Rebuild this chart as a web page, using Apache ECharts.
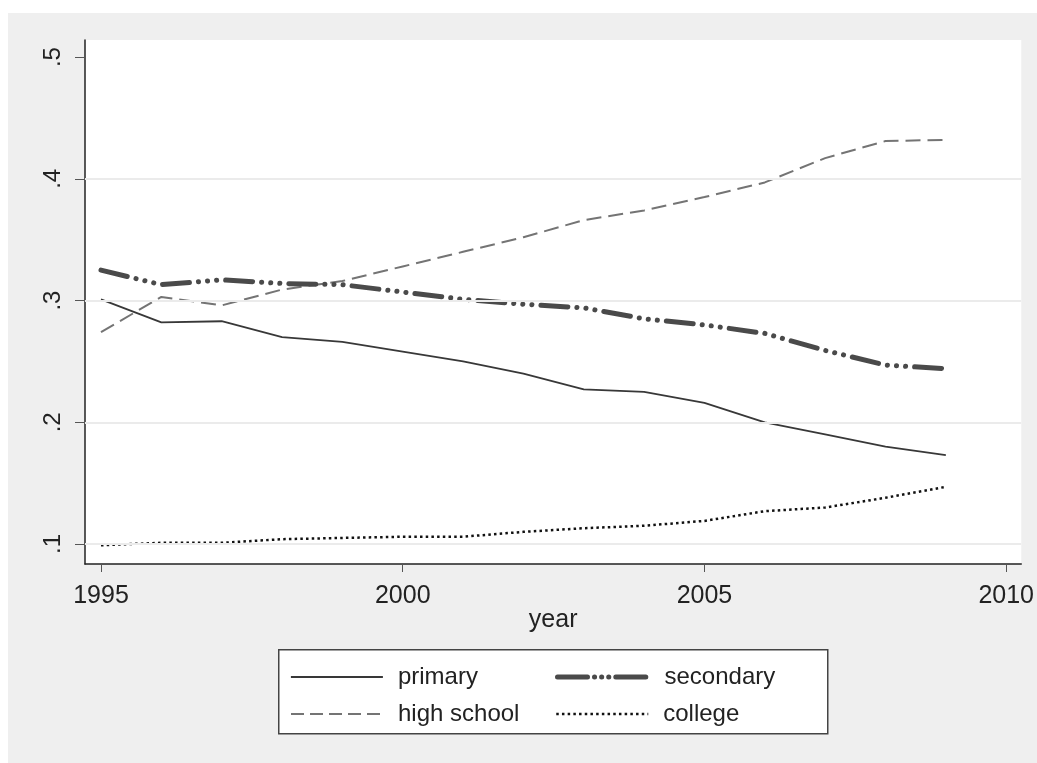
<!DOCTYPE html>
<html>
<head>
<meta charset="utf-8">
<script src="https://cdn.jsdelivr.net/npm/echarts@6/dist/echarts.min.js"></script>
<style>
html,body{margin:0;padding:0;background:#fff;}
#panel{position:absolute;left:8px;top:13px;width:1029px;height:750px;background:#efefef;}
#chart{width:1029px;height:750px;}
</style>
</head>
<body>
<div id="panel"><div id="chart"></div></div>
<script>
const years = [1995,1996,1997,1998,1999,2000,2001,2002,2003,2004,2005,2006,2007,2008,2009];
const primary   = [0.301,0.282,0.283,0.270,0.266,0.258,0.250,0.240,0.227,0.225,0.216,0.200,0.190,0.180,0.173];
const secondary = [0.325,0.313,0.317,0.314,0.313,0.307,0.301,0.297,0.294,0.285,0.280,0.273,0.259,0.247,0.244];
const highSchool= [0.274,0.303,0.296,0.309,0.316,0.328,0.340,0.352,0.366,0.374,0.385,0.397,0.417,0.431,0.432];
const college   = [0.099,0.101,0.101,0.104,0.105,0.106,0.106,0.110,0.113,0.115,0.119,0.127,0.130,0.138,0.147];
const xTicks = [1995,2000,2005,2010];
const yTicks = [0.1,0.2,0.3,0.4,0.5];
const yGridLines = [0.1,0.2,0.3,0.4];
const names = ['primary','secondary','high school','college'];

const pairs = arr => years.map((y,i)=>[y,arr[i]]);
const font = '"Liberation Sans", Arial, sans-serif';

const styles = {
  'primary':     {color:'#383838',width:1.8,type:'solid'},
  'secondary':   {color:'#4a4a4a',width:5,type:[27,9,0.1,9,0.1,9,0.1,9],cap:'round'},
  'high school': {color:'#747474',width:2,type:[15,7]},
  'college':     {color:'#111111',width:2.5,type:[2.5,3.2]}
};
const legendLineStyles = {
  'primary':     {color:'#383838',width:1.8,type:'solid'},
  'secondary':   {color:'#4a4a4a',width:5,type:[30,7,0.1,7,0.1,7,0.1,7],cap:'round'},
  'high school': {color:'#747474',width:2,type:[13,6]},
  'college':     {color:'#111111',width:2.5,type:[2.5,3.2]}
};

const chart = echarts.init(document.getElementById('chart'), null, {renderer:'canvas'});
function mkLegend(name,left,top){
  return {
    data:[name], left:left, top:top, orient:'horizontal', padding:0,
    itemWidth:92, itemHeight:14, selectedMode:false,
    itemStyle:{opacity:0},
    lineStyle:Object.assign({},legendLineStyles[name]),
    textStyle:{fontFamily:font,fontSize:24,color:'#222',padding:[0,0,0,10]}
  };
}
chart.setOption({
  backgroundColor:'transparent',
  animation:false,
  grid:{left:77, top:27, right:15, bottom:199, show:true, backgroundColor:'#fff', borderWidth:0},
  xAxis:{
    type:'value', min:1994.735, max:2010.25,
    name:'year', nameLocation:'middle', nameGap:44, nameMoveOverlap:false,
    nameTextStyle:{fontFamily:font,fontSize:25,color:'#222'},
    axisLine:{show:true,onZero:false,lineStyle:{color:'#222',width:1.5}},
    axisTick:{show:true,length:8,customValues:xTicks,lineStyle:{color:'#555',width:1}},
    axisLabel:{customValues:xTicks,margin:20,fontFamily:font,fontSize:25,color:'#222',formatter:v=>String(v)},
    splitLine:{show:false}
  },
  yAxis:{
    type:'value', min:0.0836, max:0.514,
    axisLine:{show:true,onZero:false,lineStyle:{color:'#222',width:1.5}},
    axisTick:{show:true,length:10,customValues:yTicks,lineStyle:{color:'#555',width:1}},
    axisLabel:{customValues:yTicks,rotate:90,margin:20,fontFamily:font,fontSize:24,color:'#222',
      formatter:v=>String(Math.round(v*10)/10).replace(/^0/,'')},
    splitLine:{show:false}
  },
  legend:[
    mkLegend('primary',282,652),
    mkLegend('secondary',547,652),
    mkLegend('high school',282,689),
    mkLegend('college',547,689)
  ],
  graphic:[{
    type:'rect', left:270, top:636, z:-1, silent:true,
    shape:{width:549,height:84},
    style:{fill:'#fff',stroke:'#444',lineWidth:1.5}
  }],
  series:[
    {name:'_grid',type:'line',data:[],z:0,silent:true,
      markLine:{silent:true,symbol:'none',label:{show:false},animation:false,
        lineStyle:{color:'#ebebeb',width:2,type:'solid'},
        data:yGridLines.map(v=>({yAxis:v}))}}
  ].concat(names.map((n,i)=>({
    name:n, type:'line', data:pairs([primary,secondary,highSchool,college][i]),
    symbol:'none', z: n==='secondary'?4:3,
    itemStyle:{color:styles[n].color},
    lineStyle:Object.assign({},styles[n])
  })))
});
</script>
</body>
</html>
